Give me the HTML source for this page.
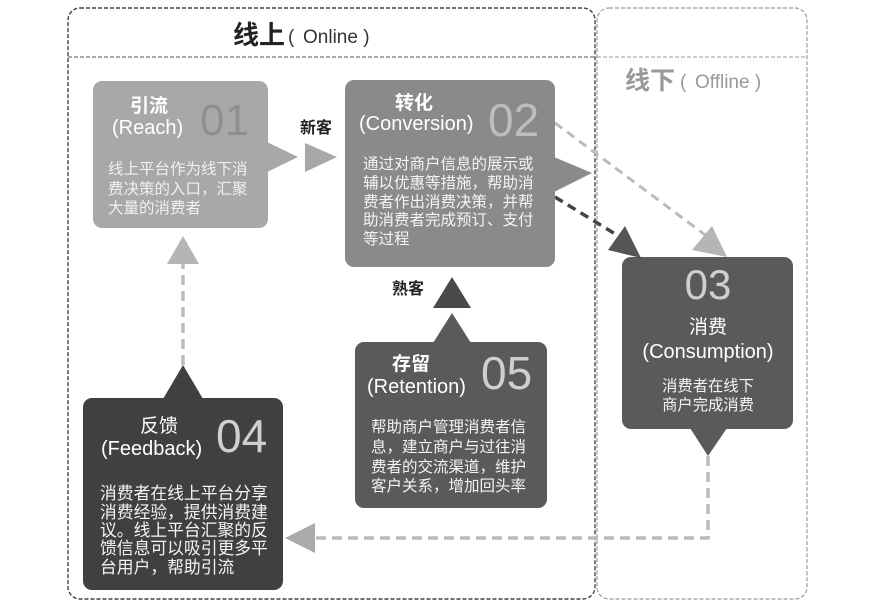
<!DOCTYPE html>
<html><head><meta charset="utf-8"><style>
html,body{margin:0;padding:0;background:#fff;}
svg{display:block;}
text{font-family:"Liberation Sans","Noto Sans CJK SC",sans-serif;}
</style></head><body>
<svg width="874" height="611" viewBox="0 0 874 611" xmlns="http://www.w3.org/2000/svg">
<!-- containers -->
<rect x="597" y="8" width="210" height="591" rx="12" fill="none" stroke="#999" stroke-width="1.2" stroke-dasharray="4,2"/>
<line x1="597" y1="57" x2="807" y2="57" stroke="#999" stroke-width="1" stroke-dasharray="4,2"/>
<rect x="68" y="8" width="527" height="591" rx="12" fill="none" stroke="#444" stroke-width="1.4" stroke-dasharray="4,2"/>
<line x1="68" y1="57" x2="595" y2="57" stroke="#555" stroke-width="1" stroke-dasharray="4,2"/>
<text x="233" y="44" font-size="26" font-weight="bold" fill="#222">线上</text>
<text x="288" y="43" font-size="19" fill="#333">(</text>
<text x="303" y="43" font-size="19" fill="#333">Online )</text>
<text x="625" y="89" font-size="25" font-weight="bold" fill="#999">线下</text>
<text x="680" y="88" font-size="19" fill="#999">(</text>
<text x="695" y="88" font-size="19" fill="#999">Offline )</text>

<!-- connectors -->
<line x1="555" y1="123" x2="712" y2="240" stroke="#bbb" stroke-width="3" stroke-dasharray="9,6"/>
<polygon points="727,257 692,250 712,226" fill="#b5b5b5"/>
<line x1="555" y1="197" x2="625" y2="240" stroke="#444" stroke-width="3.5" stroke-dasharray="9,6"/>
<polygon points="641,258 608,250 625,226" fill="#555"/>
<polyline points="708,456 708,538 315,538" fill="none" stroke="#bbb" stroke-width="3.5" stroke-dasharray="10,6"/>
<polygon points="285,538 315,523 315,553" fill="#aaa"/>
<line x1="183" y1="365" x2="183" y2="262" stroke="#bbb" stroke-width="3.5" stroke-dasharray="10,6"/>
<polygon points="183,236 167,264 199,264" fill="#b5b5b5"/>
<polygon points="305,143 337,157 305,172" fill="#a8a8a8"/>
<text x="300" y="133" font-size="16" font-weight="bold" fill="#222">新客</text>
<polygon points="452,277 433,308 471,308" fill="#4a4a4a"/>
<text x="392" y="294" font-size="16" font-weight="bold" fill="#222">熟客</text>

<!-- Box 01 -->
<rect x="93" y="81" width="175" height="147" rx="9" fill="#a8a8a8"/>
<polygon points="267,142 298,157 267,172" fill="#a8a8a8"/>
<text x="130" y="112" font-size="19" font-weight="bold" fill="#fff">引流</text>
<text x="112" y="134" font-size="20" fill="#fff">(Reach)</text>
<text x="200" y="135" font-size="44" fill="#8f8f8f">01</text>
<g font-size="15.5" fill="#f0f0f0"><text x="108" y="174">线上平台作为线下消</text><text x="108" y="194">费决策的入口，汇聚</text><text x="108" y="213">大量的消费者</text></g>

<!-- Box 02 -->
<rect x="345" y="80" width="210" height="187" rx="9" fill="#8a8a8a"/>
<polygon points="554,157 592,173 554,192" fill="#8a8a8a"/>
<text x="395" y="109" font-size="19" font-weight="bold" fill="#fff">转化</text>
<text x="359" y="130" font-size="20" fill="#fff">(Conversion)</text>
<text x="488" y="136" font-size="46" fill="#bdbdbd">02</text>
<g font-size="15.5" fill="#f4f4f4"><text x="363" y="169">通过对商户信息的展示或</text><text x="363" y="188">辅以优惠等措施，帮助消</text><text x="363" y="207">费者作出消费决策，并帮</text><text x="363" y="225">助消费者完成预订、支付</text><text x="363" y="244">等过程</text></g>

<!-- Box 03 -->
<rect x="622" y="257" width="171" height="172" rx="9" fill="#5a5a5a"/>
<polygon points="690,428 727,428 708,456" fill="#5a5a5a"/>
<text x="708" y="299" font-size="42" fill="#cfcfcf" text-anchor="middle">03</text>
<text x="708" y="333" font-size="19" fill="#fff" text-anchor="middle">消费</text>
<text x="708" y="358" font-size="20" fill="#fff" text-anchor="middle">(Consumption)</text>
<g font-size="15.3" fill="#f4f4f4" text-anchor="middle"><text x="708" y="391">消费者在线下</text><text x="708" y="410">商户完成消费</text></g>

<!-- Box 05 -->
<rect x="355" y="342" width="192" height="166" rx="9" fill="#5a5a5a"/>
<polygon points="433,343 471,343 452,313" fill="#5a5a5a"/>
<text x="392" y="370" font-size="19" font-weight="bold" fill="#fff">存留</text>
<text x="367" y="393" font-size="20" fill="#fff">(Retention)</text>
<text x="481" y="389" font-size="46" fill="#cfcfcf">05</text>
<g font-size="15.5" fill="#f4f4f4"><text x="371" y="432">帮助商户管理消费者信</text><text x="371" y="452">息，建立商户与过往消</text><text x="371" y="472">费者的交流渠道，维护</text><text x="371" y="491">客户关系，增加回头率</text></g>

<!-- Box 04 -->
<rect x="83" y="398" width="200" height="192" rx="9" fill="#404040"/>
<polygon points="163,399 203,399 183,365" fill="#404040"/>
<text x="140" y="432" font-size="19" fill="#fff">反馈</text>
<text x="101" y="455" font-size="20" fill="#fff">(Feedback)</text>
<text x="216" y="452" font-size="46" fill="#cfcfcf">04</text>
<g font-size="16.8" fill="#f4f4f4"><text x="100" y="499">消费者在线上平台分享</text><text x="100" y="518">消费经验，提供消费建</text><text x="100" y="536">议。线上平台汇聚的反</text><text x="100" y="554">馈信息可以吸引更多平</text><text x="100" y="573">台用户，帮助引流</text></g>
</svg>
</body></html>
